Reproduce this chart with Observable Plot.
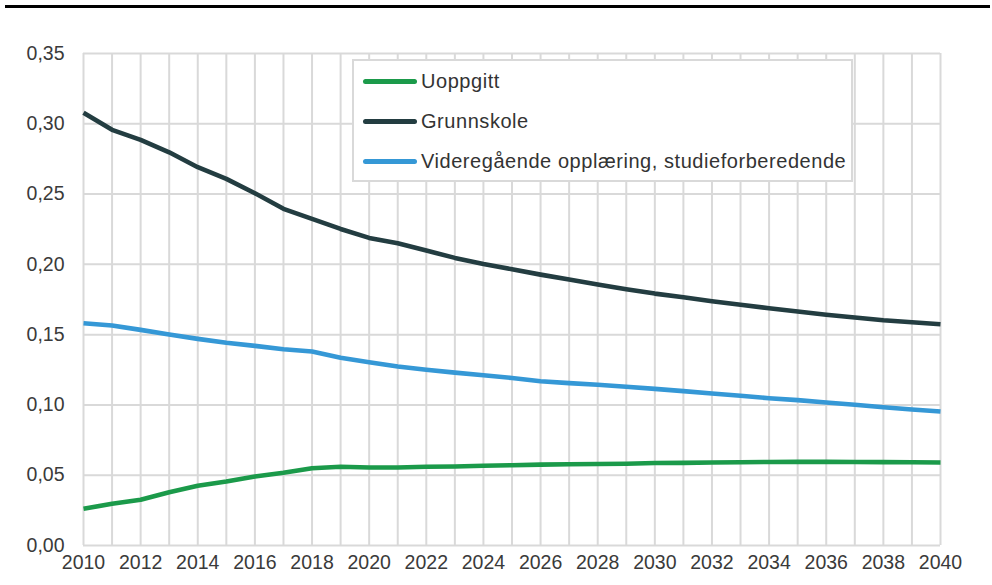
<!DOCTYPE html>
<html>
<head>
<meta charset="utf-8">
<script src="https://cdn.jsdelivr.net/npm/d3@7"></script>
<script src="https://cdn.jsdelivr.net/npm/@observablehq/plot@0.6"></script>
<style>
  html, body { margin: 0; padding: 0; background: #fff; }
  #wrap { position: relative; width: 992px; height: 585px; overflow: hidden; font-family: "Liberation Sans", Arial, sans-serif; }
  #wrap svg text { font-size: 19.5px !important; font-family: "Liberation Sans", Arial, sans-serif !important; fill: #3a3a3a; }
  #rule { position: absolute; left: 5px; top: 5px; width: 985px; height: 3px; background: #000; }
  #legend { position: absolute; left: 352px; top: 59px; width: 497px; height: 119px; border: 2px solid #d9d9d9; background: #fff; box-sizing: content-box; }
  .row { position: absolute; left: 0; height: 24px; display: flex; align-items: center; font-size: 20px; letter-spacing: 0.55px; color: #333; white-space: nowrap; }
  .sw { width: 54px; height: 5px; border-radius: 3px; margin-left: 9px; margin-right: 4px; }
</style>
</head>
<body>
<div id="wrap"><div id="rule"></div></div>
<script>
const years = d3.range(2010, 2041);
const seriesNames = ["Uoppgitt", "Grunnskole", "Videregående opplæring, studieforberedende"];
const seriesColors = ["#1b9a4a", "#233d41", "#3598d6"];
const uoppgitt = [0.0261, 0.0297, 0.0325, 0.0379, 0.0425, 0.0455, 0.0491, 0.0517, 0.0550, 0.0560,
  0.0555, 0.0555, 0.0560, 0.0562, 0.0567, 0.0571, 0.0575, 0.0578, 0.0580, 0.0582,
  0.0587, 0.0588, 0.0590, 0.0592, 0.0594, 0.0595, 0.0595, 0.0594, 0.0593, 0.0592, 0.0590];
const grunnskole = [0.3078, 0.2957, 0.2885, 0.2797, 0.2691, 0.2608, 0.2506, 0.2395, 0.2324, 0.2252,
  0.2188, 0.2150, 0.2098, 0.2046, 0.2003, 0.1965, 0.1927, 0.1892, 0.1856, 0.1823,
  0.1792, 0.1766, 0.1738, 0.1712, 0.1688, 0.1664, 0.1641, 0.1622, 0.1602, 0.1588, 0.1574];
const videregaende = [0.1581, 0.1565, 0.1534, 0.1501, 0.1470, 0.1442, 0.1420, 0.1396, 0.1380, 0.1335,
  0.1304, 0.1273, 0.1250, 0.1230, 0.1211, 0.1192, 0.1169, 0.1155, 0.1143, 0.1129,
  0.1114, 0.1098, 0.1081, 0.1065, 0.1048, 0.1034, 0.1017, 0.1001, 0.0984, 0.0967, 0.0953];
const xTicks = d3.range(2010, 2041, 2);
const yTicks = [0, 0.05, 0.10, 0.15, 0.20, 0.25, 0.30, 0.35];

const seriesValues = [uoppgitt, grunnskole, videregaende];
const data = [];
seriesNames.forEach((name, i) => {
  years.forEach((yr, j) => data.push({series: name, year: yr, value: seriesValues[i][j]}));
});

const chart = Plot.plot({
  width: 992,
  height: 585,
  marginTop: 53,
  marginBottom: 40,
  marginLeft: 83,
  marginRight: 52,
  style: { fontFamily: "Liberation Sans, Arial, sans-serif", fontSize: "19.5px", color: "#3a3a3a", background: "transparent" },
  x: { domain: [2010, 2040], ticks: xTicks, tickFormat: d => String(d), tickSize: 0, tickPadding: 10, label: null },
  y: { domain: [0, 0.35], ticks: yTicks, tickFormat: d => d.toFixed(2).replace(".", ","), tickSize: 0, tickPadding: 19, label: null },
  color: { domain: seriesNames, range: seriesColors },
  marks: [
    Plot.ruleX(years, { stroke: "#d9d9d9", strokeWidth: 2, strokeOpacity: 1 }),
    Plot.ruleY(yTicks, { stroke: "#d9d9d9", strokeWidth: 2, strokeOpacity: 1 }),
    Plot.line(data, { x: "year", y: "value", stroke: "series", strokeWidth: 4.6, strokeLinejoin: "round", strokeLinecap: "butt" })
  ]
});
const wrap = document.getElementById("wrap");
chart.style.position = "absolute";
chart.style.left = "0";
chart.style.top = "0";
wrap.insertBefore(chart, wrap.firstChild);

const legend = document.createElement("div");
legend.id = "legend";
seriesNames.forEach((name, i) => {
  const row = document.createElement("div");
  row.className = "row";
  row.style.top = (8 + i * 40) + "px";
  const sw = document.createElement("div");
  sw.className = "sw";
  sw.style.background = seriesColors[i];
  const tx = document.createElement("span");
  tx.textContent = name;
  row.appendChild(sw);
  row.appendChild(tx);
  legend.appendChild(row);
});
wrap.appendChild(legend);
</script>
</body>
</html>
